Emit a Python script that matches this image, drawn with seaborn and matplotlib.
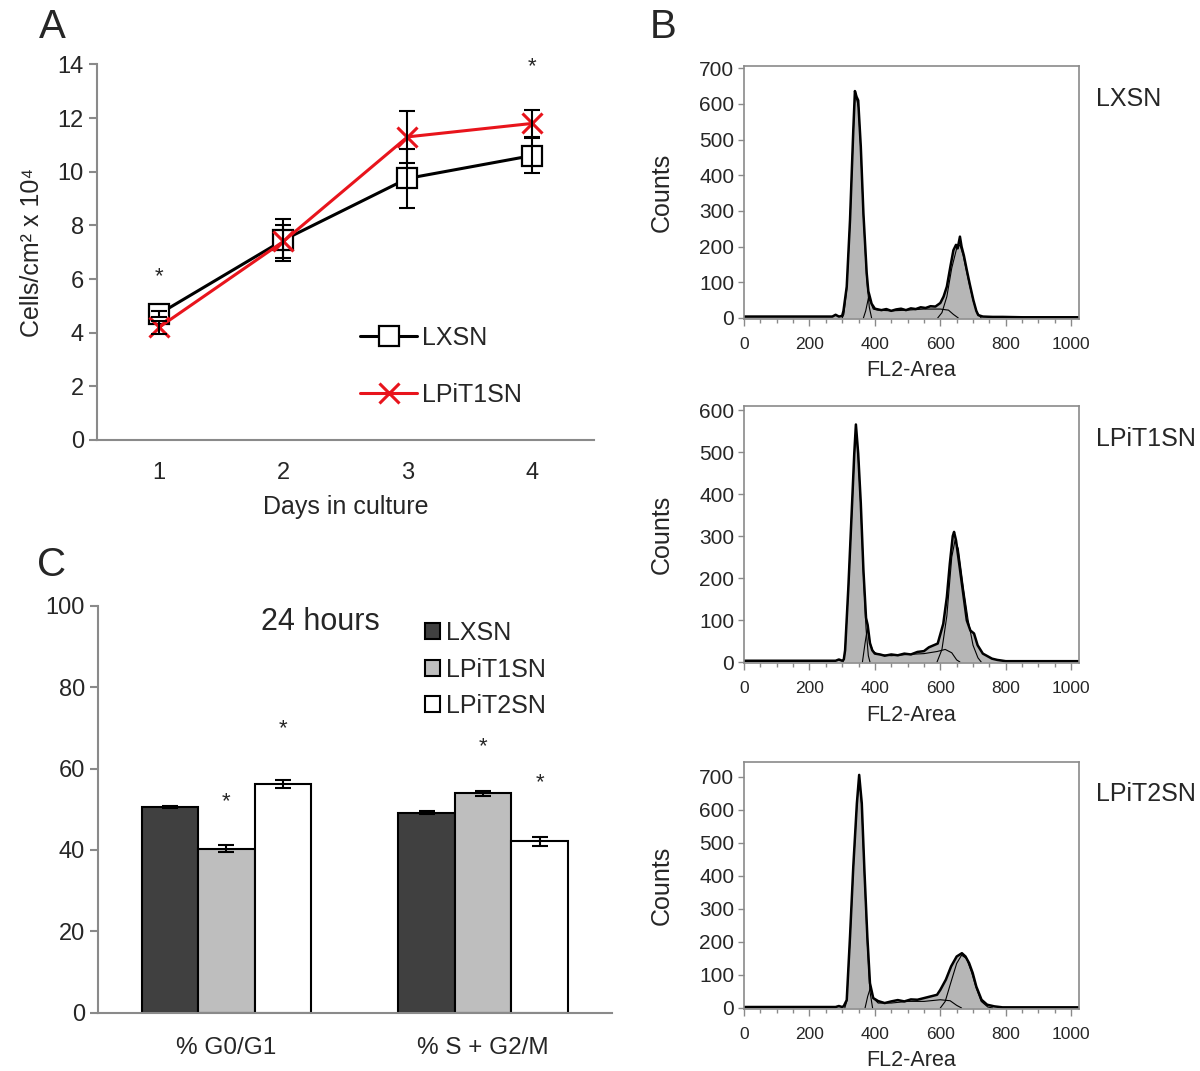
import matplotlib
matplotlib.use("Agg")
import matplotlib.pyplot as plt
import seaborn as sns
import pandas as pd
import numpy as np
from matplotlib.ticker import MultipleLocator, FixedLocator

# ---- Panel A data: growth curve ----
days = [1, 2, 3, 4]
lxsn_growth = [4.7, 7.45, 9.75, 10.6]
lxsn_growth_err = [0.12, 0.78, 1.1, 0.65]
lpit1_growth = [4.2, 7.4, 11.3, 11.8]
lpit1_growth_err = [0.25, 0.6, 0.97, 0.5]
growth_star_days = [1, 4]
growth_star_y = [6.1, 13.9]

# ---- Panel C data: cell cycle ----
phases = ['% G0/G1', '% S + G2/M']
vectors = ['LXSN', 'LPiT1SN', 'LPiT2SN']
cycle_lxsn = [50.5, 49.1]
cycle_lpit1 = [40.3, 53.9]
cycle_lpit2 = [56.2, 42.1]
cycle_lxsn_err = [0.2, 0.35]
cycle_lpit1_err = [0.9, 0.7]
cycle_lpit2_err = [1.0, 1.2]
# star height per (vector, phase); None = no star
cycle_star_lxsn = [None, None]
cycle_star_lpit1 = [51.8, 65.3]
cycle_star_lpit2 = [69.8, 56.4]

# ---- Panel B data: DNA content histograms ----
lxsn_ch = [0, 100, 200, 270, 280, 290, 300, 304, 314, 324, 334, 339, 344, 349, 357, 365,
           375, 380, 383, 390, 400, 410, 420, 435, 450, 465, 480, 495, 510, 525, 540, 555,
           570, 585, 600, 610, 620, 630, 640, 648, 653, 660, 665, 672, 681, 690, 701, 710,
           716, 730, 760, 790, 850, 1024]
lxsn_cnt = [4, 4, 4, 4, 9, 4, 6, 20, 88, 274, 526, 636, 620, 610, 480, 293,
            126, 75, 65, 40, 26, 24, 22, 25, 20, 24, 26, 22, 27, 25, 30, 28,
            33, 32, 42, 60, 88, 140, 190, 205, 195, 228, 200, 175, 134, 95, 50, 20,
            8, 4, 3, 3, 2, 2]
lxsn_g1_ch = [300, 305, 314, 324, 334, 339, 345, 350, 357, 365, 375, 383, 390]
lxsn_g1_cnt = [0, 10, 80, 270, 520, 625, 610, 590, 470, 285, 110, 30, 0]
lxsn_s_ch = [365, 372, 380, 387, 395, 410, 450, 500, 550, 600, 625, 640, 655]
lxsn_s_cnt = [0, 20, 55, 45, 25, 22, 20, 22, 25, 25, 22, 10, 0]
lxsn_g2_ch = [592, 605, 620, 635, 650, 660, 670, 685, 700, 712, 725]
lxsn_g2_cnt = [0, 15, 60, 140, 195, 205, 175, 110, 50, 15, 0]

lpit1_ch = [0, 100, 200, 280, 290, 300, 305, 309, 319, 329, 337, 342, 349, 357, 365, 373,
            378, 385, 392, 400, 416, 430, 450, 470, 490, 510, 530, 550, 565, 580, 592, 609,
            620, 629, 638, 642, 648, 659, 670, 681, 692, 703, 714, 730, 758, 774, 800, 1024]
lpit1_cnt = [3, 3, 3, 3, 6, 3, 6, 28, 179, 354, 497, 566, 497, 378, 219, 105,
             88, 45, 28, 20, 18, 15, 18, 16, 20, 18, 24, 26, 35, 40, 44, 91,
             155, 234, 300, 310, 290, 227, 163, 99, 75, 68, 40, 20, 8, 5, 2, 2]
lpit1_g1_ch = [303, 309, 319, 329, 337, 342, 349, 357, 365, 373, 380, 385]
lpit1_g1_cnt = [0, 25, 175, 350, 490, 555, 490, 370, 210, 80, 15, 0]
lpit1_s_ch = [362, 370, 377, 385, 395, 410, 450, 500, 550, 590, 615, 635, 650, 660]
lpit1_s_cnt = [0, 45, 80, 45, 25, 18, 15, 18, 20, 25, 30, 22, 5, 0]
lpit1_g2_ch = [590, 605, 620, 635, 645, 655, 670, 685, 700, 715, 725]
lpit1_g2_cnt = [0, 30, 110, 250, 290, 270, 180, 100, 40, 10, 0]

lpit2_ch = [0, 100, 200, 280, 290, 300, 305, 314, 324, 334, 345, 352, 360, 368, 377, 385,
            395, 410, 430, 450, 470, 490, 510, 530, 550, 570, 590, 600, 617, 633, 650, 666,
            677, 688, 699, 710, 726, 743, 765, 790, 1024]
lpit2_cnt = [3, 3, 3, 3, 6, 3, 6, 24, 216, 428, 620, 706, 620, 418, 216, 75,
             30, 21, 15, 20, 24, 20, 26, 25, 30, 35, 40, 55, 86, 126, 156, 166,
             156, 136, 106, 65, 25, 10, 5, 2, 2]
lpit2_g1_ch = [308, 314, 324, 334, 345, 352, 360, 368, 377, 385, 393]
lpit2_g1_cnt = [0, 20, 210, 420, 615, 700, 610, 405, 195, 50, 0]
lpit2_s_ch = [370, 378, 386, 395, 410, 450, 500, 550, 600, 630, 650, 665]
lpit2_s_cnt = [0, 35, 60, 30, 15, 15, 20, 20, 25, 22, 8, 0]
lpit2_g2_ch = [600, 615, 630, 650, 665, 680, 695, 710, 725, 745, 760]
lpit2_g2_cnt = [0, 20, 70, 135, 160, 150, 110, 60, 20, 3, 0]

sns.set_style("white")
plt.rcParams['font.family'] = ['Liberation Sans', 'DejaVu Sans']

SPINE = '#8a8a8a'

fig = plt.figure(figsize=(12, 10.71), dpi=100)


def gray_axes(ax, spines=('left', 'bottom')):
    for name, sp in ax.spines.items():
        if name in spines:
            sp.set_visible(True)
            sp.set_color(SPINE)
            sp.set_linewidth(1.5)
        else:
            sp.set_visible(False)


# ================= Panel A =================
axA = fig.add_axes([0.0808, 0.5892, 0.414, 0.3506])
sns.lineplot(x=days, y=lxsn_growth, ax=axA, color='black', lw=2.2, marker='s',
             markersize=14, markerfacecolor='white', markeredgecolor='black',
             markeredgewidth=1.6, label='LXSN', zorder=3)
sns.lineplot(x=days, y=lpit1_growth, ax=axA, color='#e8141c', lw=2.2, marker='x',
             markersize=14, markeredgecolor='#e8141c', markeredgewidth=2.2,
             label='LPiT1SN', zorder=4)
axA.errorbar(days, lxsn_growth, yerr=lxsn_growth_err, fmt='none', ecolor='black',
             elinewidth=1.5, capsize=6, capthick=1.5, zorder=5)
axA.errorbar(days, lpit1_growth, yerr=lpit1_growth_err, fmt='none', ecolor='black',
             elinewidth=1.5, capsize=6, capthick=1.5, zorder=5)
for d, s in zip(growth_star_days, growth_star_y):
    axA.text(d, s, '*', ha='center', va='center', fontsize=16)
axA.set_xlim(0.5, 4.5)
axA.set_ylim(0, 14)
axA.yaxis.set_major_locator(MultipleLocator(2))
axA.xaxis.set_major_locator(FixedLocator(days))
axA.xaxis.set_minor_locator(FixedLocator([0.5, 1.5, 2.5, 3.5, 4.5]))
axA.tick_params(axis='x', which='major', length=0, labelsize=17, pad=16)
axA.tick_params(axis='x', which='minor', length=7, width=1.5, color=SPINE, direction='out')
axA.tick_params(axis='y', length=6, width=1.5, color=SPINE, direction='out', labelsize=17, left=True)
axA.set_xlabel('Days in culture', fontsize=18, labelpad=8)
axA.set_ylabel('Cells/cm² x 10⁴', fontsize=18, labelpad=10)
gray_axes(axA)
axA.legend(loc='upper left', bbox_to_anchor=(0.529, 0.303), frameon=False, fontsize=18,
           handlelength=2.3, handletextpad=0.2, labelspacing=1.3, borderpad=0, borderaxespad=0)

# ================= Panel C =================
axC = fig.add_axes([0.0817, 0.0542, 0.428, 0.3804])
cycle_df = pd.DataFrame({
    'phase': phases * 3,
    'vector': [v for v in vectors for _ in phases],
    'pct': cycle_lxsn + cycle_lpit1 + cycle_lpit2,
})
sns.barplot(data=cycle_df, x='phase', y='pct', hue='vector', hue_order=vectors,
            palette=['#404040', '#bebebe', '#ffffff'], edgecolor='black', linewidth=1.5,
            width=0.66, errorbar=None, saturation=1, ax=axC)
errs = [cycle_lxsn_err, cycle_lpit1_err, cycle_lpit2_err]
vals = [cycle_lxsn, cycle_lpit1, cycle_lpit2]
stars = [cycle_star_lxsn, cycle_star_lpit1, cycle_star_lpit2]
for cont, v, e, st in zip(axC.containers, vals, errs, stars):
    xs = [b.get_x() + b.get_width() / 2 for b in cont]
    axC.errorbar(xs, v, yerr=e, fmt='none', ecolor='black', elinewidth=1.5,
                 capsize=6, capthick=1.5, zorder=5)
    for x, s in zip(xs, st):
        if s is not None:
            axC.text(x, s, '*', ha='center', va='center', fontsize=16)
axC.set_xlim(-0.5, 1.5)
axC.set_ylim(0, 100)
axC.yaxis.set_major_locator(MultipleLocator(20))
axC.xaxis.set_minor_locator(FixedLocator([-0.5, 0.5, 1.5]))
axC.tick_params(axis='x', which='major', length=0, labelsize=17.5, pad=17)
axC.tick_params(axis='x', which='minor', length=7, width=1.5, color=SPINE, direction='out')
axC.tick_params(axis='y', length=6, width=1.5, color=SPINE, direction='out', labelsize=17, left=True)
axC.set_xlabel('')
axC.set_ylabel('')
gray_axes(axC)
axC.text(0.364, 96, '24 hours', ha='center', va='center', fontsize=22)
h, l = axC.get_legend_handles_labels()
axC.legend(h, l, loc='upper left', bbox_to_anchor=(0.636, 0.962), frameon=False, fontsize=18,
           handlelength=0.6, handleheight=0.6, handletextpad=0.25, labelspacing=0.5,
           borderpad=0, borderaxespad=0)

# ================= Panel B =================
hist_sets = [
    ('LXSN', lxsn_ch, lxsn_cnt, [(lxsn_g1_ch, lxsn_g1_cnt), (lxsn_s_ch, lxsn_s_cnt), (lxsn_g2_ch, lxsn_g2_cnt)], 706,
     [0.62, 0.7021, 0.2792, 0.2362]),
    ('LPiT1SN', lpit1_ch, lpit1_cnt, [(lpit1_g1_ch, lpit1_g1_cnt), (lpit1_s_ch, lpit1_s_cnt), (lpit1_g2_ch, lpit1_g2_cnt)], 610,
     [0.62, 0.3807, 0.2792, 0.2402]),
    ('LPiT2SN', lpit2_ch, lpit2_cnt, [(lpit2_g1_ch, lpit2_g1_cnt), (lpit2_s_ch, lpit2_s_cnt), (lpit2_g2_ch, lpit2_g2_cnt)], 745,
     [0.62, 0.0579, 0.2792, 0.2306]),
]
for name, ch, cnt, fits, ytop, pos in hist_sets:
    ax = fig.add_axes(pos)
    ax.fill_between(ch, 0, cnt, color='#b6b6b6', lw=0)
    sns.lineplot(x=ch, y=cnt, ax=ax, color='black', lw=1.8)
    for fch, fcnt in fits:
        sns.lineplot(x=fch, y=fcnt, ax=ax, color='black', lw=0.8)
    ax.set_xlim(0, 1024)
    ax.set_ylim(-3, ytop)
    ax.xaxis.set_major_locator(MultipleLocator(200))
    ax.xaxis.set_minor_locator(MultipleLocator(50))
    ax.yaxis.set_major_locator(MultipleLocator(100))
    ax.tick_params(axis='x', which='major', length=5, width=1, color=SPINE, direction='out',
                   labelsize=12.5, pad=8, bottom=True)
    ax.tick_params(axis='x', which='minor', length=3, width=1, color=SPINE, direction='out', bottom=True)
    ax.tick_params(axis='y', length=4, width=1, color=SPINE, direction='out', labelsize=15,
                   pad=3, left=True)
    for sp in ax.spines.values():
        sp.set_visible(True)
        sp.set_color(SPINE)
        sp.set_linewidth(1.2)
    ax.set_xlabel('FL2-Area', fontsize=15.5, labelpad=6)
    ax.set_ylabel('Counts', fontsize=18, labelpad=18)
    ax.text(1.05, 0.87, name, transform=ax.transAxes, fontsize=18, ha='left', va='center')

# panel letters
fig.text(0.044, 0.975, 'A', fontsize=29, ha='center', va='center')
fig.text(0.553, 0.975, 'B', fontsize=29, ha='center', va='center')
fig.text(0.043, 0.472, 'C', fontsize=29, ha='center', va='center')

fig.savefig('out.png', dpi=100)
